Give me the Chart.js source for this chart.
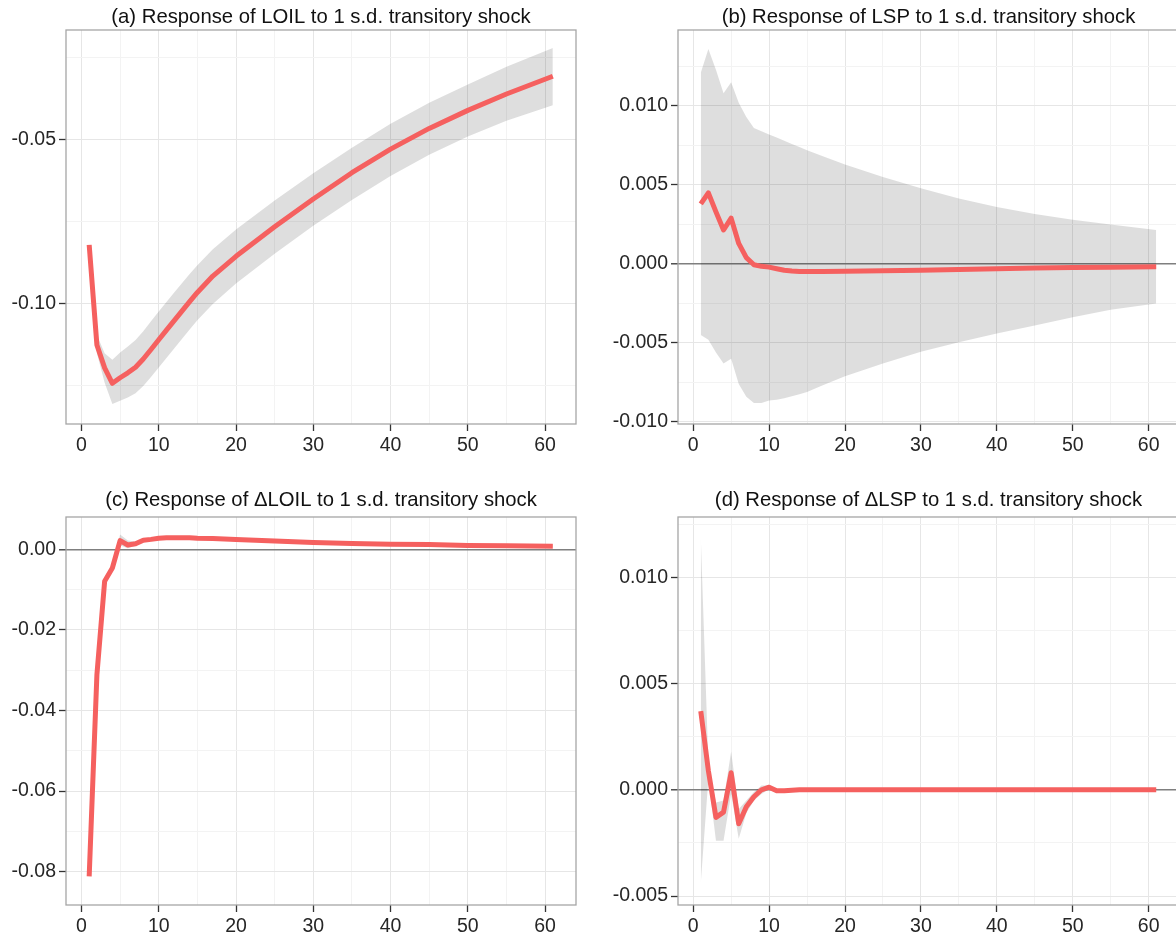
<!DOCTYPE html>
<html>
<head>
<meta charset="utf-8">
<title>Impulse responses to a transitory shock</title>
<script src="https://cdn.jsdelivr.net/npm/chart.js@4.4.0/dist/chart.umd.min.js"></script>
<style>
    html, body { margin: 0; padding: 0; background: #fff; overflow: hidden; width: 1176px; height: 936px; }
    canvas { position: absolute; }
</style>
</head>
<body>
<canvas id="panelA" width="578" height="464" style="left:0px;top:0px"></canvas>
<canvas id="panelB" width="600" height="464" style="left:588px;top:0px"></canvas>
<canvas id="panelC" width="578" height="458" style="left:0px;top:487px"></canvas>
<canvas id="panelD" width="600" height="458" style="left:588px;top:487px"></canvas>
<script>
// horizons (dense at the start, sparser later)
const steps = [1,2,3,4,5,6,7,8,9,10,11,12,13,14,15,17,20,25,30,35,40,45,50,55,61];

// (a) LOIL
const loilIrf   = [-0.0820,-0.1125,-0.1195,-0.1242,-0.1225,-0.1210,-0.1193,-0.1168,-0.1139,-0.1109,-0.1080,-0.1051,-0.1022,-0.0993,-0.0965,-0.0915,-0.0855,-0.0765,-0.0680,-0.0600,-0.0528,-0.0465,-0.0410,-0.0360,-0.0306];
const loilUpper = [-0.0815,-0.1095,-0.1150,-0.1170,-0.1148,-0.1130,-0.1110,-0.1083,-0.1053,-0.1023,-0.0994,-0.0965,-0.0937,-0.0909,-0.0882,-0.0833,-0.0773,-0.0685,-0.0602,-0.0524,-0.0451,-0.0387,-0.0331,-0.0277,-0.0220];
const loilLower = [-0.0825,-0.1150,-0.1240,-0.1305,-0.1295,-0.1285,-0.1272,-0.1250,-0.1223,-0.1194,-0.1165,-0.1136,-0.1107,-0.1078,-0.1050,-0.1000,-0.0938,-0.0847,-0.0762,-0.0683,-0.0610,-0.0545,-0.0490,-0.0442,-0.0394];

// (b) LSP
const lspIrf   = [0.0038,0.0045,0.0033,0.00215,0.0029,0.0013,0.0004,-0.00005,-0.00015,-0.0002,-0.0003,-0.0004,-0.00045,-0.00048,-0.00048,-0.00047,-0.00046,-0.00043,-0.0004,-0.00035,-0.0003,-0.00026,-0.00022,-0.0002,-0.00018];
const lspUpper = [0.0121,0.0136,0.0123,0.0108,0.0115,0.0102,0.0093,0.0086,0.0084,0.0082,0.0080,0.0078,0.0076,0.0074,0.0072,0.00684,0.0063,0.0055,0.0048,0.00415,0.0036,0.00317,0.0028,0.0025,0.00215];
const lspLower = [-0.0045,-0.0048,-0.0056,-0.0063,-0.0060,-0.0076,-0.0084,-0.0088,-0.0088,-0.00865,-0.0086,-0.0085,-0.00838,-0.00825,-0.0081,-0.0077,-0.0071,-0.0063,-0.00555,-0.00495,-0.0044,-0.0039,-0.00338,-0.0029,-0.0025];

// (c) dLOIL
const dloilIrf   = [-0.0812,-0.0311,-0.0079,-0.0046,0.0022,0.0011,0.0014,0.0023,0.0025,0.0028,0.0029,0.0029,0.0029,0.0029,0.0028,0.0027,0.0025,0.0021,0.0017,0.0015,0.0013,0.0012,0.0010,0.0009,0.0008];
const dloilUpper = [-0.0806,-0.0302,-0.0072,-0.0038,0.0037,0.0022,0.0020,0.0027,0.0029,0.0031,0.0031,0.0031,0.0031,0.0031,0.0030,0.0029,0.0027,0.0023,0.0019,0.0017,0.0015,0.0014,0.0012,0.0011,0.0010];
const dloilLower = [-0.0818,-0.0320,-0.0086,-0.0054,0.0010,0.0003,0.0009,0.0019,0.0022,0.0025,0.0027,0.0027,0.0027,0.0027,0.0026,0.0025,0.0023,0.0019,0.0015,0.0013,0.0011,0.0010,0.0008,0.0007,0.0006];

// (d) dLSP
const dlspIrf   = [0.0037,0.0009,-0.0013,-0.00105,0.0008,-0.0016,-0.0008,-0.00033,0.0,0.00012,-0.00005,-0.00005,-0.00002,0,0,0,0,0,0,0,0,0,0,0,0];
const dlspUpper = [0.0119,0.0013,-0.0006,-0.0005,0.0018,-0.0009,-0.0005,-0.0001,0.0002,0.0002,0.00003,0.00003,0.00002,0.00001,0.00001,0.00001,0.00001,0.00001,0.00001,0.00001,0.00001,0.00001,0.00001,0.00001,0.00001];
const dlspLower = [-0.0044,0.0005,-0.0024,-0.0024,-0.0002,-0.0023,-0.0011,-0.0005,-0.0002,0.00003,-0.00012,-0.0001,-0.00005,-0.00001,-0.00001,-0.00001,-0.00001,-0.00001,-0.00001,-0.00001,-0.00001,-0.00001,-0.00001,-0.00001,-0.00001];

// tick values (major get labels, minor only get a faint grid line)
const xMajor = [0,10,20,30,40,50,60];
const xMinor = [5,15,25,35,45,55];
const yMajorA = [-0.10,-0.05];
const yMinorA = [-0.125,-0.075,-0.025];
const yMajorB = [-0.010,-0.005,0,0.005,0.010];
const yMinorB = [-0.0075,-0.0025,0.0025,0.0075,0.0125];
const yMajorC = [-0.08,-0.06,-0.04,-0.02,0];
const yMinorC = [-0.07,-0.05,-0.03,-0.01];
const yMajorD = [-0.005,0,0.005,0.010];
const yMinorD = [-0.0025,0.0025,0.0075,0.0125];

const FONT = "'Liberation Sans', Arial, Helvetica, sans-serif";
const RED = '#f5605f';
const BAND = 'rgba(0,0,0,0.13)';

function isIn(list, v){
    for (let i = 0; i < list.length; i++) {
        if (Math.abs(list[i] - v) < 1e-9) return true;
    }
    return false;
}

function toPoints(vals){
    return steps.map((s, i) => ({x: s, y: vals[i]}));
}

// box round the plot area, like theme_bw
const panelBorder = {
    id: 'panelBorder',
    afterDraw(chart){
        const a = chart.chartArea;
        const c = chart.ctx;
        c.save();
        c.strokeStyle = '#a6a6a6';
        c.lineWidth = 1.3;
        c.strokeRect(a.left, a.top, a.right - a.left, a.bottom - a.top);
        c.restore();
    }
};

function makePanel(id, p){
    const ctx = document.getElementById(id).getContext('2d');
    const yAll = p.yMajor.concat(p.yMinor);
    const xAll = xMajor.concat(xMinor);

    return new Chart(ctx, {
        type: 'line',
        data: {
            datasets: [
                {   // impulse response
                    data: toPoints(p.irf),
                    borderColor: RED,
                    borderWidth: 5,
                    pointRadius: 0,
                    fill: false,
                    tension: 0,
                    borderJoinStyle: 'round',
                    order: 0
                },
                {   // upper bound, filled down to the lower bound
                    data: toPoints(p.upper),
                    borderWidth: 0,
                    borderColor: 'rgba(0,0,0,0)',
                    backgroundColor: BAND,
                    pointRadius: 0,
                    fill: '+1',
                    tension: 0,
                    order: 1
                },
                {
                    data: toPoints(p.lower),
                    borderWidth: 0,
                    borderColor: 'rgba(0,0,0,0)',
                    pointRadius: 0,
                    fill: false,
                    tension: 0,
                    order: 2
                }
            ]
        },
        options: {
            responsive: false,
            animation: false,
            events: [],
            layout: { padding: { left: 0, right: p.padRight, top: 0, bottom: 0 } },
            plugins: {
                legend: { display: false },
                tooltip: { enabled: false },
                title: {
                    display: true,
                    fullSize: false,   // centre over the plot area, not the canvas
                    text: p.title,
                    color: '#111',
                    font: { family: FONT, size: 20.3, weight: 'normal', lineHeight: 1.2 },
                    padding: { top: p.titleTop, bottom: 5.64 - p.titleTop }
                }
            },
            scales: {
                x: {
                    type: 'linear',
                    min: -2,
                    max: 64,
                    afterBuildTicks: function(s){
                        s.ticks = xAll.slice().sort((a, b) => a - b).map(v => ({value: v}));
                    },
                    afterFit: function(s){ s.height = 40; },
                    border: { display: false },
                    grid: {
                        color: c => isIn(xMajor, c.tick.value) ? '#e6e6e6' : '#f3f3f3',
                        lineWidth: 1,
                        tickLength: 7,
                        tickWidth: 1.3,
                        tickColor: c => isIn(xMajor, c.tick.value) ? '#333' : 'rgba(0,0,0,0)'
                    },
                    ticks: {
                        autoSkip: false,
                        maxRotation: 0,
                        padding: 3,
                        color: '#262626',
                        font: { family: FONT, size: 19.5 },
                        callback: v => isIn(xMajor, v) ? String(v) : ''
                    }
                },
                y: {
                    type: 'linear',
                    min: p.yMin,
                    max: p.yMax,
                    afterBuildTicks: function(s){
                        s.ticks = yAll.slice().sort((a, b) => a - b).map(v => ({value: v}));
                    },
                    afterFit: function(s){ s.width = p.yWidth; },
                    border: { display: false },
                    grid: {
                        color: c => Math.abs(c.tick.value) < 1e-12 ? '#7f7f7f' : (isIn(p.yMajor, c.tick.value) ? '#e6e6e6' : '#f3f3f3'),
                        lineWidth: c => Math.abs(c.tick.value) < 1e-12 ? 1.6 : 1,
                        tickLength: 7,
                        tickWidth: 1.3,
                        tickColor: c => isIn(p.yMajor, c.tick.value) ? '#333' : 'rgba(0,0,0,0)'
                    },
                    ticks: {
                        autoSkip: false,
                        padding: 3,
                        color: '#262626',
                        font: { family: FONT, size: 19.5 },
                        callback: v => isIn(p.yMajor, v) ? v.toFixed(p.digits) : ''
                    }
                }
            }
        },
        plugins: [panelBorder]
    });
}

makePanel('panelA', {
    title: '(a) Response of LOIL to 1 s.d. transitory shock',
    irf: loilIrf, upper: loilUpper, lower: loilLower,
    yMajor: yMajorA, yMinor: yMinorA, yMin: -0.1366, yMax: -0.0165, digits: 2,
    yWidth: 66, padRight: 2, titleTop: 5.6
});
makePanel('panelB', {
    title: '(b) Response of LSP to 1 s.d. transitory shock',
    irf: lspIrf, upper: lspUpper, lower: lspLower,
    yMajor: yMajorB, yMinor: yMinorB, yMin: -0.01013, yMax: 0.01481, digits: 3,
    yWidth: 90, padRight: 9, titleTop: 5.6
});
makePanel('panelC', {
    title: '(c) Response of \u0394LOIL to 1 s.d. transitory shock',
    irf: dloilIrf, upper: dloilUpper, lower: dloilLower,
    yMajor: yMajorC, yMinor: yMinorC, yMin: -0.0883, yMax: 0.00806, digits: 2,
    yWidth: 66, padRight: 2, titleTop: 1.2
});
makePanel('panelD', {
    title: '(d) Response of \u0394LSP to 1 s.d. transitory shock',
    irf: dlspIrf, upper: dlspUpper, lower: dlspLower,
    yMajor: yMajorD, yMinor: yMinorD, yMin: -0.00542, yMax: 0.01283, digits: 3,
    yWidth: 90, padRight: 9, titleTop: 1.2
});
</script>
</body>
</html>
